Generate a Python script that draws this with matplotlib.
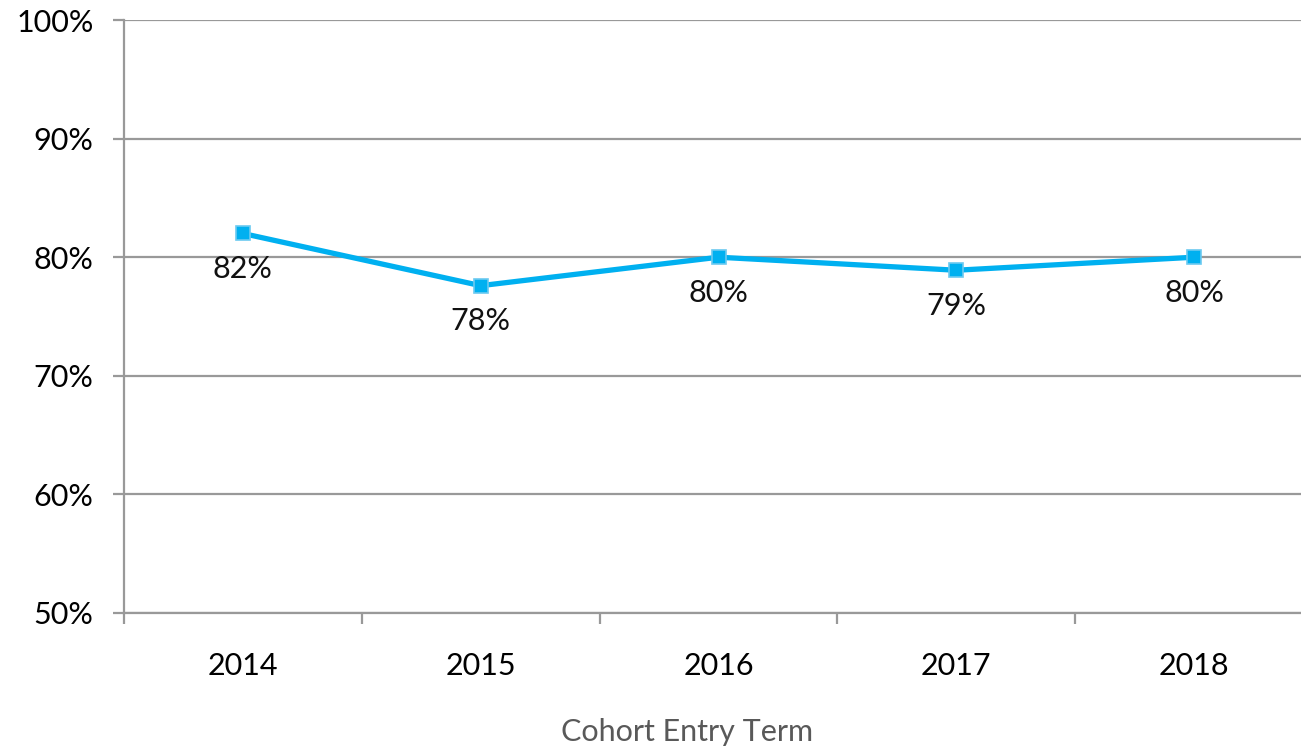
import numpy as np
import matplotlib.pyplot as plt

plt.rcParams['font.family'] = ['Lato', 'DejaVu Sans']

years = ['2014', '2015', '2016', '2017', '2018']
rates = [82.0, 77.6, 80.0, 78.9, 80.0]
labels = ['82%', '78%', '80%', '79%', '80%']

fig = plt.figure(figsize=(13.01, 7.46), dpi=100)
# plot area runs slightly past the right edge, like the original
ax = fig.add_axes([124 / 1301, 133 / 746, 1189 / 1301, 593 / 746])

x = np.arange(len(years))
ax.plot(x, rates, color='#00B0F0', linewidth=3.8, marker='s', markersize=10,
        markerfacecolor='#00B0F0', markeredgecolor='#6CCAF0', markeredgewidth=1.2,
        zorder=3)

for xi, yi, lab in zip(x, rates, labels):
    ax.annotate(lab, (xi, yi), xytext=(0, -25.5), textcoords='offset points',
                ha='center', va='center', fontsize=22, color='#111111')

ax.set_xlim(-0.5, len(years) - 0.5)
ax.set_ylim(50, 100)
ax.set_yticks(np.arange(50, 101, 10))
ax.set_yticklabels([f'{v}%' for v in range(50, 101, 10)])
ax.yaxis.grid(True, color='#999999', linewidth=1.6)
ax.set_axisbelow(True)

ax.set_xticks(x)
ax.set_xticklabels(years)
ax.set_xticks(np.arange(-0.5, len(years), 1), minor=True)
ax.tick_params(axis='x', which='major', length=0, pad=28, labelsize=22)
ax.tick_params(axis='x', which='minor', length=8, width=1.6, color='#999999')
ax.tick_params(axis='y', length=8, width=1.6, color='#999999', pad=14, labelsize=22)

for side in ['top', 'right']:
    ax.spines[side].set_visible(False)
for side in ['left', 'bottom']:
    ax.spines[side].set_color('#999999')
    ax.spines[side].set_linewidth(1.6)

# axis title is centred on the visible picture, not on the full plot area
ax.set_xlabel('Cohort Entry Term', fontsize=22, color='#595959')
ax.xaxis.set_label_coords((687 - 124) / 1189, -0.177)

fig.savefig('out.png', dpi=100)
